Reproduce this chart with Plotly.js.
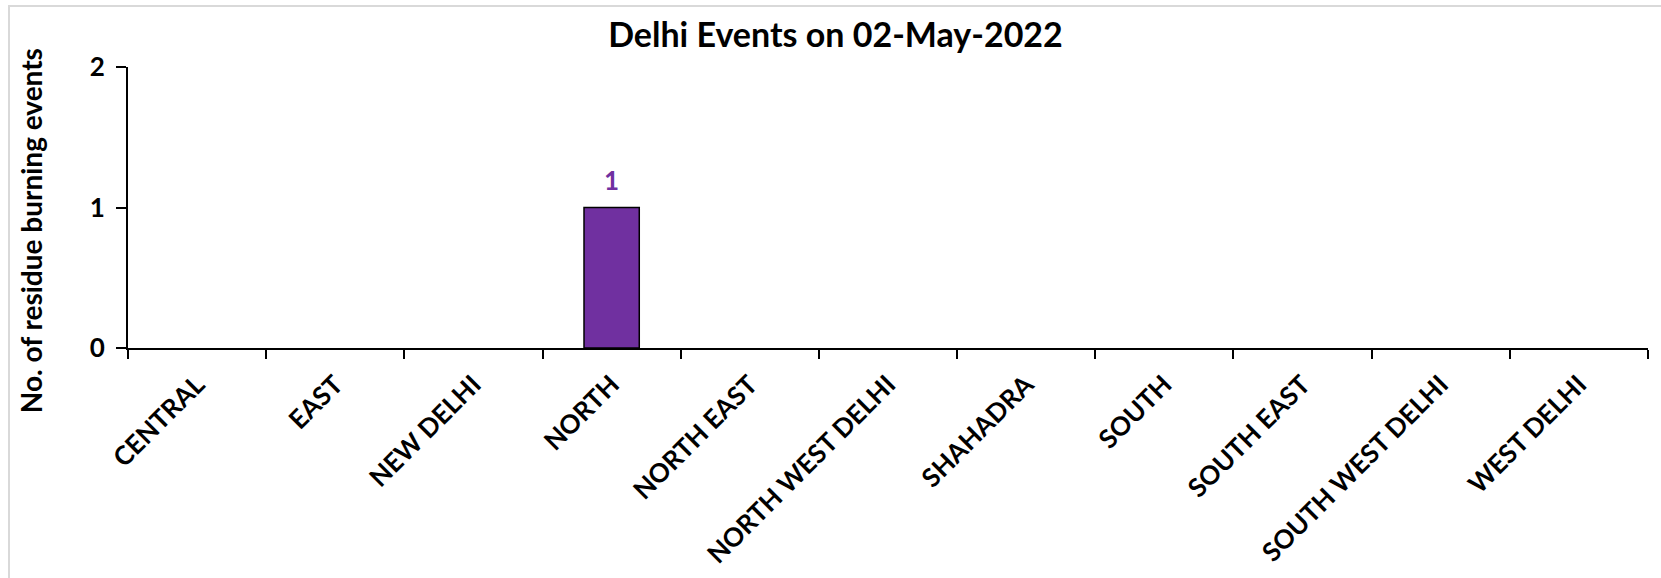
<!DOCTYPE html>
<html>
<head>
<meta charset="utf-8">
<script src="https://cdn.plot.ly/plotly-3.0.1.min.js"></script>
<style>
  html, body { margin: 0; padding: 0; background: #ffffff; overflow: hidden; }
  #wrap { position: relative; width: 1661px; height: 578px; }
  #chart { width: 1661px; height: 578px; }
  #frame { position: absolute; left: 8px; top: 5px; width: 1700px; height: 700px;
           border: 2px solid #d9d9d9; box-sizing: border-box; pointer-events: none; }
</style>
</head>
<body>
<div id="wrap">
  <div id="chart"></div>
  <div id="frame"></div>
</div>
<script>
const districts = ["CENTRAL", "EAST", "NEW DELHI", "NORTH", "NORTH EAST", "NORTH WEST DELHI",
                   "SHAHADRA", "SOUTH", "SOUTH EAST", "SOUTH WEST DELHI", "WEST DELHI"];
const events = [0, 0, 0, 1, 0, 0, 0, 0, 0, 0, 0];
const yTicks = [0, 1, 2];
const chartTitle = "Delhi Events on 02-May-2022";
const yTitle = "No. of residue burning events";

const FONT = "Lato, 'Open Sans', sans-serif";
const PURPLE = "#7030A0";

const trace = {
  type: "bar",
  x: districts,
  y: events,
  marker: {
    color: PURPLE,
    line: { color: "#000000", width: events.map(v => v > 0 ? 1.5 : 0) }
  },
  hoverinfo: "x+y"
};

const valueLabels = districts
  .map((d, i) => ({ d: d, v: events[i] }))
  .filter(p => p.v > 0)
  .map(p => ({
    text: "<b>" + p.v + "</b>",
    xref: "x", yref: "y",
    x: p.d, y: p.v,
    xanchor: "center", yanchor: "middle",
    yshift: 28,
    showarrow: false,
    font: { family: FONT, size: 26, color: PURPLE }
  }));

const layout = {
  width: 1661,
  height: 578,
  margin: { l: 128, r: 13, t: 67, b: 230, pad: 0 },
  paper_bgcolor: "#ffffff",
  plot_bgcolor: "#ffffff",
  showlegend: false,
  bargap: 0.6,
  font: { family: FONT, color: "#000000" },
  title: {
    text: "<b>" + chartTitle + "</b>",
    font: { family: FONT, size: 34, color: "#000000" },
    x: 0.503, xref: "container", xanchor: "center",
    y: 0.94, yref: "container", yanchor: "middle"
  },
  xaxis: {
    type: "category",
    tickangle: -45,
    tickfont: { family: FONT, size: 26, color: "#000000", weight: 700 },
    showline: true, linecolor: "#000000", linewidth: 2,
    ticks: "outside", tickson: "boundaries", ticklen: 9, tickwidth: 2, tickcolor: "#000000",
    showgrid: false, zeroline: false,
    ticklabelstandoff: 9
  },
  yaxis: {
    range: [0, 2],
    tickvals: yTicks,
    ticktext: yTicks.map(String),
    tickfont: { family: FONT, size: 26, color: "#000000", weight: 700 },
    showline: true, linecolor: "#000000", linewidth: 2,
    ticks: "outside", ticklen: 10, tickwidth: 2, tickcolor: "#000000",
    showgrid: false, zeroline: false,
    ticklabelstandoff: 6
  },
  annotations: [{
    text: "<b>" + yTitle + "</b>",
    xref: "paper", yref: "paper",
    x: -0.0636, y: 0.4166,
    xanchor: "center", yanchor: "middle",
    textangle: -90,
    showarrow: false,
    font: { family: FONT, size: 28, color: "#000000" }
  }].concat(valueLabels)
};

Plotly.newPlot("chart", [trace], layout, { displayModeBar: false, staticPlot: true });
</script>
</body>
</html>
